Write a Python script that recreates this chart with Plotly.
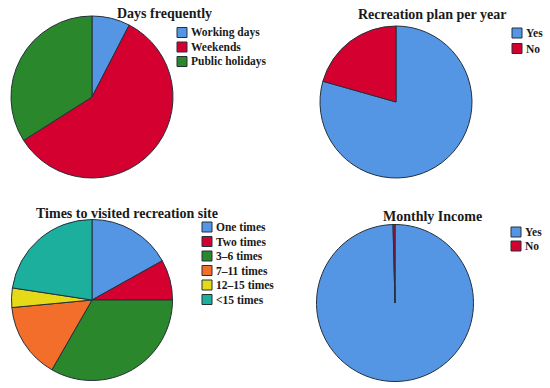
import plotly.graph_objects as go

W, H = 550, 388

# ---- data ----
days_labels = ["Working days", "Weekends", "Public holidays"]
days_values = [7.6, 58.4, 34.0]

plan_labels = ["Yes", "No"]
plan_values = [79.4, 20.6]

times_labels = ["One times", "Two times", "3\u20136 times", "7\u201311 times", "12\u201315 times", "<15 times"]
times_values = [16.9, 8.1, 33.3, 15.2, 3.9, 22.6]

income_labels = ["Yes", "No"]
income_values = [99.6, 0.4]

titles = ["Days frequently", "Recreation plan per year",
          "Times to visited recreation site", "Monthly Income"]

BLUE, RED, GREEN = "#5596E4", "#D4002F", "#2A872B"
ORANGE, YELLOW, TEAL = "#F36E2B", "#E6DA18", "#1CAF9E"
colors6 = [BLUE, RED, GREEN, ORANGE, YELLOW, TEAL]
EDGE = "#24303a"
FONT = "Liberation Serif"


def px_x(x):
    return x / W


def px_y(y):
    return 1 - y / H


def dom(cx, cy, r):
    return dict(x=[px_x(cx - r), px_x(cx + r)], y=[px_y(cy + r), px_y(cy - r)])


pies = [
    (days_labels, days_values, colors6[:3], (92, 97, 81)),
    (plan_labels, plan_values, colors6[:2], (396, 102, 76)),
    (times_labels, times_values, colors6, (92, 300, 80.5)),
    (income_labels, income_values, colors6[:2], (395, 303, 78.5)),
]

fig = go.Figure()
for labels, values, cols, (cx, cy, r) in pies:
    fig.add_trace(go.Pie(
        labels=labels, values=values, sort=False, direction="clockwise",
        rotation=0, textinfo="none", hoverinfo="label+percent",
        marker=dict(colors=cols, line=dict(color=EDGE, width=1)),
        domain=dom(cx, cy, r), showlegend=False,
    ))

annotations = []
shapes = []

title_pos = [(164, 14), (432, 15), (127, 213), (432, 216)]
for t, (x, y) in zip(titles, title_pos):
    annotations.append(dict(
        x=px_x(x), y=px_y(y), xref="paper", yref="paper", text="<b>" + t + "</b>",
        showarrow=False, xanchor="center", yanchor="middle",
        font=dict(family=FONT, size=14, color="#1a1a1a"),
    ))

legends = [
    (days_labels, colors6[:3], 177, 32.5, 14.5),
    (plan_labels, colors6[:2], 512, 33, 15.5),
    (times_labels, colors6, 202, 227, 14.5),
    (income_labels, colors6[:2], 511, 232, 14),
]
for labels, cols, x0, y0, step in legends:
    for i, (lab, c) in enumerate(zip(labels, cols)):
        yc = y0 + i * step
        shapes.append(dict(
            type="rect", xref="paper", yref="paper",
            x0=px_x(x0), x1=px_x(x0 + 10), y0=px_y(yc + 5), y1=px_y(yc - 5),
            fillcolor=c, line=dict(color=EDGE, width=1),
        ))
        annotations.append(dict(
            x=px_x(x0 + 12), y=px_y(yc), xref="paper", yref="paper",
            text="<b>" + lab + "</b>", showarrow=False,
            xanchor="left", yanchor="middle",
            font=dict(family=FONT, size=11.5, color="#1a1a1a"),
        ))

fig.update_layout(
    width=W, height=H, margin=dict(l=0, r=0, t=0, b=0),
    paper_bgcolor="white", plot_bgcolor="white",
    annotations=annotations, shapes=shapes,
)

fig.write_html(
    "out.html",
    config={"displayModeBar": False},
    post_script="document.body.style.margin='0';document.body.style.overflow='hidden';",
)
